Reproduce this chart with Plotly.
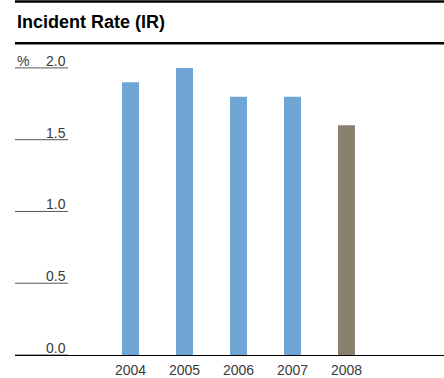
import plotly.graph_objects as go

years = ["2004", "2005", "2006", "2007", "2008"]
ir_values = [1.9, 2.0, 1.8, 1.8, 1.6]
bar_colors = ["#6fa6d6", "#6fa6d6", "#6fa6d6", "#6fa6d6", "#8b7f6e"]
y_ticks = [0.0, 0.5, 1.0, 1.5, 2.0]
y_tick_labels = ["0.0", "0.5", "1.0", "1.5", "2.0"]
title_text = "Incident Rate (IR)"
unit_text = "%"

W, H = 444, 378
ML, MR, MT, MB = 15, 0, 60, 20
PW = W - ML - MR
PH = H - MT - MB


def px_x(p):
    return (p - ML) / PW


def px_y(p):
    return (H - MB - p) / PH


fig = go.Figure()
fig.add_trace(go.Bar(
    x=list(range(len(years))), y=ir_values,
    marker=dict(color=bar_colors, line=dict(width=0)),
    width=0.315, hoverinfo="skip",
))

label_font = dict(family="Liberation Sans, Arial, sans-serif", size=14, color="#3a3a3a")

shapes = []
annotations = []
for v, t in zip(y_ticks, y_tick_labels):
    shapes.append(dict(type="line", xref="paper", yref="y", x0=0, x1=px_x(68),
                       y0=v, y1=v, line=dict(color="#555555", width=1)))
    annotations.append(dict(xref="paper", yref="y", x=px_x(68), y=v, text=t,
                            showarrow=False, xanchor="right", yanchor="bottom",
                            font=label_font, yshift=-3))
annotations.append(dict(xref="paper", yref="y", x=0, y=y_ticks[-1], text=unit_text,
                        showarrow=False, xanchor="left", yanchor="bottom",
                        font=label_font, yshift=-3))

# title and rules
shapes.append(dict(type="line", xref="paper", yref="paper", x0=0, x1=1,
                   y0=px_y(1), y1=px_y(1), line=dict(color="#000000", width=2.5)))
shapes.append(dict(type="line", xref="paper", yref="paper", x0=0, x1=1,
                   y0=px_y(43), y1=px_y(43), line=dict(color="#000000", width=2.5)))
annotations.append(dict(xref="paper", yref="paper", x=0, y=px_y(22), text="<b>" + title_text + "</b>",
                        showarrow=False, xanchor="left", yanchor="middle",
                        font=dict(family="Liberation Sans, Arial, sans-serif", size=18, color="#000000")))

fig.update_layout(
    width=W, height=H,
    margin=dict(l=ML, r=MR, t=MT, b=MB, pad=0),
    paper_bgcolor="white", plot_bgcolor="white",
    showlegend=False,
    shapes=shapes, annotations=annotations,
    xaxis=dict(range=[(ML - 130.5) / 54, (W - 130.5) / 54],
               tickmode="array", tickvals=list(range(len(years))), ticktext=years,
               showline=True, linecolor="#000000", linewidth=1,
               showgrid=False, zeroline=False, ticks="", tickfont=label_font,
               ticklabelstandoff=2, fixedrange=True),
    yaxis=dict(range=[0, PH / 145], showticklabels=False, showgrid=False,
               zeroline=False, showline=False, fixedrange=True),
)

fig.write_html("out.html", config={"displayModeBar": False})
